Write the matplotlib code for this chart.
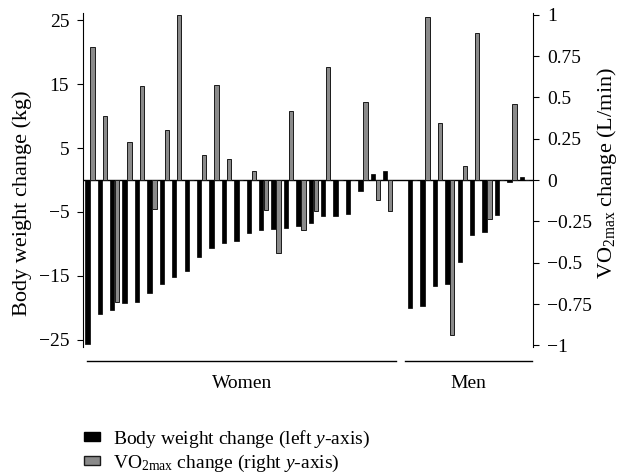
import numpy as np
import matplotlib
matplotlib.use("Agg")
import matplotlib.pyplot as plt
from matplotlib.patches import Patch
import matplotlib.transforms as mtransforms

plt.rcParams['font.family'] = ['Liberation Serif', 'DejaVu Serif']
plt.rcParams['mathtext.fontset'] = 'custom'
plt.rcParams['mathtext.rm'] = 'Liberation Serif'
plt.rcParams['mathtext.it'] = 'Liberation Serif:italic'

# body weight change (kg) and VO2max change (L/min), one pair per subject
women_weight = [-25.6, -21.0, -20.3, -19.3, -19.1, -17.6, -16.2, -15.1, -14.2, -12.0,
                -10.6, -9.8, -9.5, -8.3, -7.8, -7.6, -7.5, -7.2, -6.7, -5.6,
                -5.6, -5.3, -1.7, 0.9, 1.4]
women_vo2 = [0.805, 0.39, -0.74, 0.23, 0.57, -0.177, 0.30, 1.0, 0.0, 0.15,
             0.575, 0.13, 0.0, 0.054, -0.18, -0.44, 0.42, -0.30, -0.19, 0.685,
             0.0, 0.0, 0.47, -0.12, -0.19]
men_weight = [-20.0, -19.7, -16.6, -16.25, -12.8, -8.6, -8.2, -5.5, -0.3, 0.5]
men_vo2 = [0.0, 0.985, 0.345, -0.935, 0.085, 0.887, -0.236, 0.0, 0.46, 0.0]

left_ticks = [25, 15, 5, -5, -15, -25]
right_ticks = [1, 0.75, 0.5, 0.25, 0, -0.25, -0.5, -0.75, -1]
right_labels = ['1', '0.75', '0.5', '0.25', '0', '\u22120.25', '\u22120.5', '\u22120.75', '\u22121']

x_women = np.arange(len(women_weight))
x_men = np.arange(len(men_weight)) + len(women_weight) + 1
x = np.concatenate([x_women, x_men])
weight = women_weight + men_weight
vo2 = women_vo2 + men_vo2

fig = plt.figure(figsize=(6.21, 4.75), dpi=100)
ax = fig.add_axes([0.1337, 0.2695, 0.7246, 0.7031])
ax2 = ax.twinx()

w = 0.35
ax.bar(x - 0.2, weight, width=w, color='black', edgecolor='black', linewidth=0.5, zorder=3)
ax2.bar(x + 0.2, vo2, width=w, color='#8a8a8a', edgecolor='#1a1a1a', linewidth=0.7, zorder=3)
ax.axhline(0, color='black', linewidth=1.0, zorder=4)

ax.set_xlim(-0.55, 35.7)
ax.set_ylim(-26.1, 26.1)
ax2.set_ylim(-1.01, 1.01)

for a in (ax, ax2):
    a.spines['top'].set_visible(False)
    a.spines['bottom'].set_visible(False)
    a.set_xticks([])
ax.spines['right'].set_visible(False)
ax2.spines['left'].set_visible(False)

ax.set_yticks(left_ticks)
ax.set_yticklabels([str(t).replace('-', '\u2212') for t in left_ticks])
ax2.set_yticks(right_ticks)
ax2.set_yticklabels(right_labels)
ax.tick_params(axis='y', direction='out', length=4, labelsize=14, pad=6)
ax2.tick_params(axis='y', direction='out', length=4, labelsize=14, pad=6)

ax.set_ylabel('Body weight change (kg)', fontsize=16)
ax2.set_ylabel('VO$_{2\\mathrm{max}}$ change (L/min)', fontsize=16)
ax.yaxis.set_label_coords(-0.113, 0.43)
ax2.yaxis.set_label_coords(1.138, 0.52)

# group lines below the bars
trans = mtransforms.blended_transform_factory(ax.transData, ax.transAxes)
ax.plot([-0.23, 24.7], [-0.042, -0.042], color='black', linewidth=1.0, transform=trans, clip_on=False)
ax.plot([25.37, 35.6], [-0.042, -0.042], color='black', linewidth=1.0, transform=trans, clip_on=False)
ax.text(12.3, -0.108, 'Women', fontsize=14, ha='center', va='center', transform=trans)
ax.text(30.5, -0.108, 'Men', fontsize=14, ha='center', va='center', transform=trans)

handles = [Patch(facecolor='black', edgecolor='black'),
           Patch(facecolor='#8a8a8a', edgecolor='#1a1a1a')]
labels = ['Body weight change (left $y$-axis)', 'VO$_{2\\mathrm{max}}$ change (right $y$-axis)']
fig.legend(handles, labels, loc='upper left', bbox_to_anchor=(0.12, 0.118),
           frameon=False, fontsize=14, handlelength=0.8, handleheight=0.35,
           handletextpad=0.7, labelspacing=0.15, borderpad=0)

fig.savefig('out.png', dpi=100)
